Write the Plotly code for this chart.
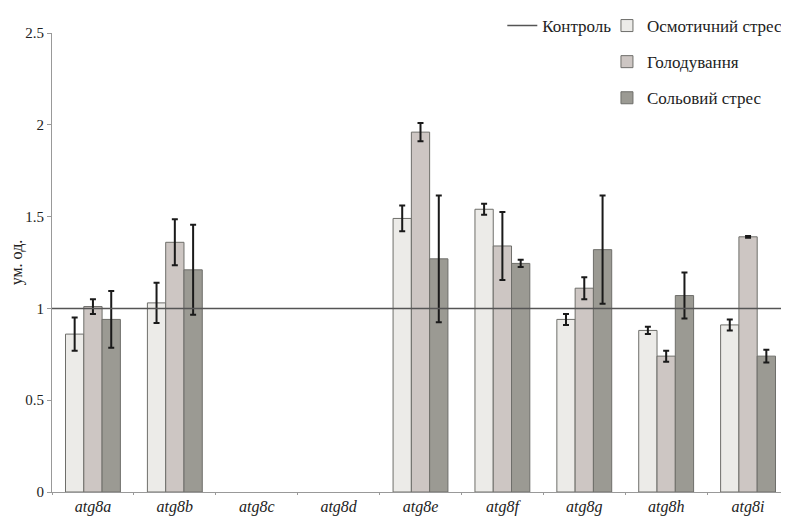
import plotly.graph_objects as go

categories = ["atg8a", "atg8b", "atg8c", "atg8d", "atg8e", "atg8f", "atg8g", "atg8h", "atg8i"]
osm = [0.86, 1.03, None, None, 1.49, 1.54, 0.94, 0.88, 0.91]
osm_err = [0.09, 0.11, None, None, 0.07, 0.03, 0.03, 0.02, 0.03]
gol = [1.01, 1.36, None, None, 1.96, 1.34, 1.11, 0.74, 1.39]
gol_err = [0.04, 0.125, None, None, 0.05, 0.185, 0.06, 0.03, 0.005]
salt = [0.94, 1.21, None, None, 1.27, 1.245, 1.32, 1.07, 0.74]
salt_err = [0.155, 0.245, None, None, 0.345, 0.02, 0.295, 0.125, 0.035]
control = 1.0
series_names = ["Осмотичний стрес", "Голодування", "Сольовий стрес"]
control_name = "Контроль"
y_title = "ум. од."

colors = ["#ecebe8", "#cdc6c3", "#9b9a93"]
FONT = "Liberation Serif"
TXT = "#222222"

fig = go.Figure()
for i, (name, vals, errs) in enumerate(zip(series_names, [osm, gol, salt], [osm_err, gol_err, salt_err])):
    fig.add_trace(go.Bar(
        x=categories, y=vals, name=name,
        marker=dict(color=colors[i], line=dict(color="#6e6e6a", width=1)),
        error_y=dict(type="data", array=errs, visible=True, color="#1a1a1a", thickness=2, width=3),
        legend="legend2", legendgroup=name,
    ))

fig.add_shape(type="line", xref="paper", x0=0, x1=1, yref="y", y0=control, y1=control,
              line=dict(color="#555555", width=1.5), showlegend=True, name=control_name,
              legend="legend")

# the page body adds an 8px offset, so the figure is 8px smaller than the window
fig.update_layout(
    width=781, height=508,
    margin=dict(l=44, r=0, t=25, b=24, autoexpand=False),
    paper_bgcolor="white", plot_bgcolor="white",
    font=dict(family=FONT, size=17, color=TXT),
    barmode="group", bargap=0.33, bargroupgap=0,
    legend=dict(x=0.611, y=1.012, xref="paper", yref="container", xanchor="left", yanchor="top",
                bgcolor="rgba(0,0,0,0)", itemwidth=30,
                font=dict(family=FONT, size=17, color=TXT)),
    legend2=dict(x=0.753, y=1.012, xref="paper", yref="container", xanchor="left", yanchor="top",
                 bgcolor="rgba(0,0,0,0)", itemwidth=30,
                 traceorder="grouped", tracegroupgap=11,
                 font=dict(family=FONT, size=17, color=TXT)),
    xaxis=dict(
        type="category", tickmode="array", tickvals=categories,
        ticktext=[f"<i>{c}</i>" for c in categories],
        tickson="boundaries", ticks="outside", ticklen=2, tickcolor="#999999",
        showline=True, linecolor="#999999", linewidth=1, showgrid=False,
        automargin=False,
        tickfont=dict(family=FONT, size=16, color=TXT),
    ),
    yaxis=dict(
        range=[0, 2.5], dtick=0.5, showgrid=False, zeroline=False,
        showline=True, linecolor="#999999", linewidth=1,
        ticks="outside", ticklen=4, tickcolor="#999999", automargin=False,
        tickfont=dict(family=FONT, size=15, color=TXT),
        title=dict(text=y_title, font=dict(family=FONT, size=16, color=TXT), standoff=8),
    ),
)

fig.write_html("out.html")
